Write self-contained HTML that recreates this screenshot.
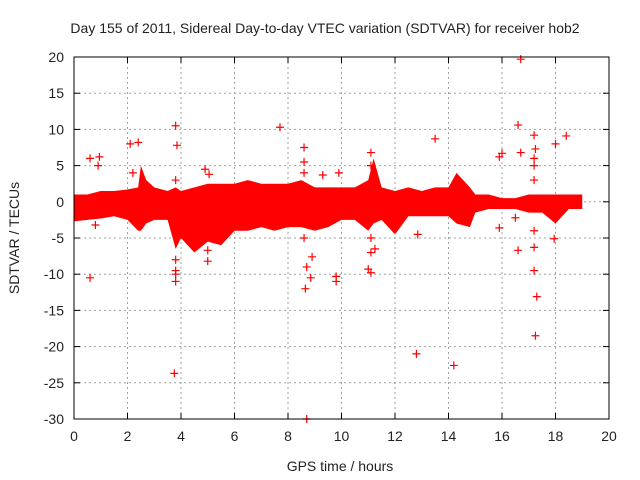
<!DOCTYPE html>
<html><head><meta charset="utf-8"><style>
body{margin:0;background:#fff}
svg{display:block;font-family:"Liberation Sans",sans-serif}
</style></head><body>
<svg id="c" width="640" height="480"></svg>
<script>
const bandX=[0,0.5,1,1.5,2,2.4,2.5,2.7,3,3.5,3.8,4,4.5,5,5.5,6,6.5,7,7.5,8,8.5,9,9.5,10,10.5,11,11.2,11.5,12,12.5,13,13.5,14,14.3,14.8,15,15.5,16,16.5,17,17.5,18,18.5,19];
const bandUpper=[1,1,1.5,1.5,1.7,2,5,3,2,1.5,2,1.5,2,2.5,2.5,2.5,3,2.5,2.5,2.5,3,2,2,2,2,3,6,2,1.5,2,1.5,2,2,4,2,1,1,0.5,0.5,1,1,1,1,1];
const bandLower=[-2.7,-2.5,-2.3,-2,-2.5,-4,-4,-3,-2.5,-2.5,-6.5,-5,-7,-5.5,-6,-4,-4,-3.5,-4,-3.5,-3.5,-4,-3.5,-2.5,-2.5,-4,-3,-2.5,-4.5,-2,-2,-2,-2,-3,-3.5,-1.5,-1,-1,-1,-1.5,-1.5,-3,-1,-1];
const outX=[0.6,0.95,0.9,0.6,0.8,2.1,2.4,2.2,3.8,3.85,3.8,3.75,5.0,5.0,4.9,5.05,7.7,8.6,8.7,8.65,8.9,8.85,8.7,9.3,9.8,9.8,9.9,11.0,11.1,11.1,11.25,13.5,12.8,12.85,14.2,15.9,16.0,16.7,16.6,16.7,16.6,17.2,17.25,17.2,17.3,17.25,17.2,18.0,18.4,17.95,15.9,16.5,3.8,3.8,3.8,3.8,8.6,8.6,8.6,11.1,11.1,11.1,17.2,17.2,17.2,17.2];
const outY=[6,6.2,5,-10.5,-3.2,8,8.2,4,10.5,7.8,-11,-23.7,-8.2,-6.7,4.5,3.8,10.3,7.5,-9,-12,-7.6,-10.5,-30,3.7,-10.3,-11,4,-9.3,-9.8,6.8,-6.5,8.7,-21,-4.5,-22.6,6.2,6.7,19.7,10.6,6.8,-6.7,9.2,7.3,-9.5,-13.1,-18.5,-6.3,8,9.1,-5.1,-3.6,-2.2,3,-8,-9.5,-10,5.5,4,-5,5,-5,-7,5,3,-4,6];
const xTicks=[0,2,4,6,8,10,12,14,16,18,20];
const yTicks=[20,15,10,5,0,-5,-10,-15,-20,-25,-30];
const L=74,R=609,T=57,B=419;
const sx=v=>L+(v-0)/20*(R-L);
const sy=v=>T+(20-v)/50*(B-T);
const svg=document.getElementById('c');const NS='http://www.w3.org/2000/svg';
function mk(t,a,p){const e=document.createElementNS(NS,t);for(const k in a)e.setAttribute(k,a[k]);(p||svg).appendChild(e);return e;}
const grid=mk('g',{});


xTicks.forEach(v=>{if(v>0&&v<20)mk('line',{x1:sx(v),x2:sx(v),y1:T,y2:B,stroke:'#a0a0a0','stroke-dasharray':'2,3'},grid);
 mk('line',{x1:sx(v),x2:sx(v),y1:B,y2:B-6,stroke:'#000'},grid);mk('line',{x1:sx(v),x2:sx(v),y1:T,y2:T+6,stroke:'#000'},grid);
 const t=mk('text',{x:sx(v),y:B+22,'text-anchor':'middle','font-size':14,fill:'#222'});t.textContent=v;
 
 });
yTicks.forEach(v=>{if(v<20&&v>-30)mk('line',{x1:L,x2:R,y1:sy(v),y2:sy(v),stroke:'#a0a0a0','stroke-dasharray':'2,3'},grid);
 mk('line',{x1:L,x2:L+6,y1:sy(v),y2:sy(v),stroke:'#000'},grid);mk('line',{x1:R,x2:R-6,y1:sy(v),y2:sy(v),stroke:'#000'},grid);
 const t=mk('text',{x:L-10,y:sy(v)+5,'text-anchor':'end','font-size':14,fill:'#222'});t.textContent=v;
 
 });
let d='M'+bandX.map((x,i)=>sx(x)+','+sy(bandUpper[i])).join('L');
for(let i=bandX.length-1;i>=0;i--)d+='L'+sx(bandX[i])+','+sy(bandLower[i]);
const band=mk('path',{d:d+'Z',fill:'#ff0000'});


outX.forEach((x,i)=>{const px=sx(x),py=sy(outY[i]);
 const p=mk('path',{d:`M${px-4},${py}h8M${px},${py-4}v8`,stroke:'#ff0000','stroke-width':1.2});
 
 });
const fr=mk('rect',{x:L,y:T,width:R-L,height:B-T,fill:'none',stroke:'#000'});


let t=mk('text',{x:325,y:33,'text-anchor':'middle','font-size':14,fill:'#222'});t.textContent='Day 155 of 2011, Sidereal Day-to-day VTEC variation (SDTVAR) for receiver hob2';


t=mk('text',{x:340,y:471,'text-anchor':'middle','font-size':14,fill:'#222'});t.textContent='GPS time / hours';


t=mk('text',{x:19,y:238,'text-anchor':'middle','font-size':14,fill:'#222',transform:'rotate(-90 19 238)'});t.textContent='SDTVAR / TECUs';


</script>
</body></html>
